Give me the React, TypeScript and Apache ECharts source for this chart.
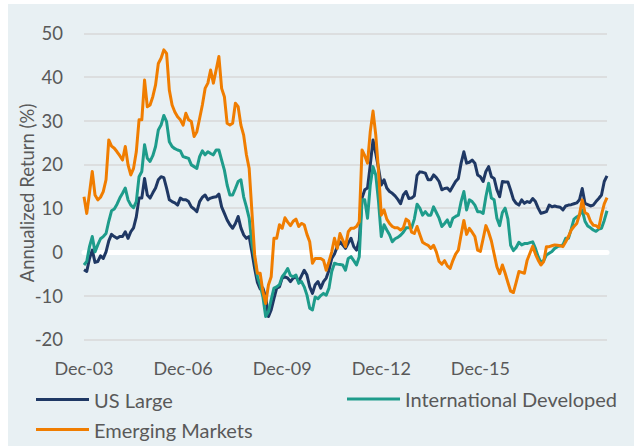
import React, { useEffect, useRef } from "react";
import * as echarts from "echarts";

const MONTHS = ["Jan", "Feb", "Mar", "Apr", "May", "Jun", "Jul", "Aug", "Sep", "Oct", "Nov", "Dec"];
const START_YEAR = 2003;
const START_MONTH = 11; // December
const POINT_COUNT = 191;
const categories: string[] = [];
for (let i = 0; i < POINT_COUNT; i++) {
  const m = (START_MONTH + i) % 12;
  const y = START_YEAR + Math.floor((START_MONTH + i) / 12);
  categories.push(`${MONTHS[m]}-${String(y % 100).padStart(2, "0")}`);
}
const labelIndices = [0, 36, 72, 108, 144];

const usLarge = [
  -4.1, -4.5, -1.5, 0.4, -2.4, -2.2, -0.9, -1.5, 0.0, 2.5,
  4.0, 3.5, 3.1, 3.5, 3.5, 4.6, 3.1, 4.6, 5.5, 8.0,
  12.3, 12.3, 16.8, 13.0, 12.3, 13.5, 14.6, 16.5, 17.2, 17.0,
  14.6, 11.9, 11.5, 11.2, 10.7, 12.3, 11.9, 11.9, 11.5, 10.3,
  9.8, 9.2, 11.5, 12.5, 13.0, 11.9, 12.3, 12.5, 12.6, 13.2,
  10.3, 8.8, 7.3, 6.2, 5.4, 6.5, 8.1, 5.5, 3.9, 3.1,
  3.5, 0.0, -3.8, -7.0, -8.5, -8.3, -10.3, -14.8, -13.3, -10.7,
  -8.3, -8.0, -6.0, -5.7, -6.0, -6.8, -6.0, -5.7, -6.8, -5.5,
  -4.2, -5.3, -8.0, -9.5, -7.5, -6.8, -8.3, -6.8, -6.0, -4.2,
  -1.5, -0.5, 1.2, 2.3, 1.6, 0.8, 2.0, 3.1, 1.2, 0.4,
  2.7, 12.3, 14.2, 14.6, 19.9, 25.6, 22.5, 19.1, 15.3, 16.5,
  14.6, 13.8, 13.4, 12.8, 12.0, 11.0, 13.0, 13.8, 12.2, 12.3,
  12.8, 17.5, 18.3, 18.2, 18.0, 16.5, 16.5, 17.6, 17.0, 16.1,
  14.2, 14.5, 14.6, 13.9, 15.0, 16.1, 16.8, 20.3, 22.9, 20.3,
  20.5, 21.0, 20.3, 17.6, 17.2, 16.1, 18.4, 19.5, 17.2, 16.8,
  14.2, 12.6, 16.1, 16.0, 16.0, 14.1, 12.0, 11.1, 10.7, 11.9,
  11.1, 11.5, 11.3, 12.2, 11.5, 10.0, 8.8, 9.0, 9.2, 10.7,
  10.3, 10.5, 10.3, 10.2, 9.6, 10.5, 10.7, 10.8, 11.0, 11.2,
  11.9, 14.5, 11.1, 10.8, 10.5, 10.7, 11.5, 12.2, 13.0, 16.1, 17.4,
];

const intlDeveloped = [
  -3.0, -2.2, 1.2, 3.5, 0.0, 1.6, 3.0, 3.5, 4.2, 7.0,
  9.4, 9.8, 10.9, 12.3, 13.4, 14.6, 11.9, 10.7, 10.1, 11.5,
  17.2, 18.4, 24.5, 21.4, 20.7, 22.0, 24.1, 27.9, 29.0, 31.2,
  29.8, 25.2, 24.1, 23.6, 23.3, 23.1, 21.8, 21.6, 21.4, 19.9,
  19.5, 19.1, 21.8, 23.1, 22.2, 22.9, 22.5, 22.2, 23.3, 23.3,
  21.0, 18.7, 15.3, 13.0, 13.0, 14.5, 16.1, 16.5, 12.6, 10.3,
  7.7, 1.9, -1.5, -5.7, -7.6, -10.3, -14.8, -13.7, -11.0, -8.3,
  -8.0, -7.5, -5.7, -4.9, -3.8, -5.4, -5.7, -5.3, -7.2, -6.8,
  -8.0, -9.9, -12.9, -13.3, -10.3, -10.7, -10.0, -9.5, -9.9, -8.3,
  -4.5, -2.6, -2.8, -2.9, -3.0, -4.2, -1.5, -1.1, -2.0, -3.0,
  -1.1, 11.9, 11.9, 7.7, 15.3, 19.5, 17.6, 11.5, 3.5, 6.2,
  5.0, 3.9, 2.3, 3.0, 3.3, 3.8, 4.5, 5.5, 5.5, 5.5,
  7.5, 10.9, 10.0, 8.4, 9.2, 8.4, 8.4, 10.3, 9.0, 7.7,
  5.8, 6.5, 7.3, 5.8, 7.7, 8.1, 8.4, 11.5, 13.8, 9.6,
  11.9, 11.5, 10.7, 9.2, 9.2, 8.8, 12.6, 15.7, 12.3, 11.9,
  7.7, 6.0, 9.0, 10.0, 7.5, 1.5, 0.3, 1.0, 2.2, 1.6,
  1.9, 1.9, 2.1, 2.3, 0.8, -1.1, -2.4, -2.0, -0.7, -0.3,
  0.1, 0.8, 1.2, 1.4, 1.6, 3.1, 3.1, 5.2, 7.5, 8.0,
  8.4, 9.6, 7.0, 5.9, 5.5, 5.0, 4.7, 5.2, 5.4, 7.2, 9.4,
];

const emergingMarkets = [
  12.6, 8.8, 13.5, 18.4, 13.0, 11.9, 12.5, 13.8, 16.5, 25.6,
  24.2, 23.7, 22.9, 22.0, 21.0, 24.1, 19.9, 17.6, 19.1, 22.9,
  30.2, 30.2, 39.3, 33.2, 33.6, 35.5, 38.2, 43.1, 44.3, 46.2,
  45.4, 37.0, 33.6, 32.0, 30.9, 30.2, 29.0, 31.7, 30.2, 29.8,
  26.4, 27.5, 30.5, 33.6, 37.4, 38.6, 41.6, 38.6, 41.6, 44.7,
  37.4, 35.5, 29.4, 29.0, 29.4, 34.0, 33.2, 29.0, 26.7, 22.2,
  19.1, 9.2, -0.7, -4.9, -4.9, -9.1, -11.8, -7.6, -5.7, 3.1,
  3.1, 6.2, 5.4, 7.8, 6.8, 6.0, 7.0, 7.5, 5.8, 6.5,
  6.2, 4.0, 2.3, -2.6, -1.5, -1.5, -1.5, -1.9, -4.2, -2.2,
  0.0, 3.1, 0.8, 4.2, 2.7, 1.2, 4.6, 5.4, 5.4, 5.8,
  6.9, 23.3, 22.0, 20.3, 27.5, 32.2, 26.7, 18.4, 8.4, 9.6,
  7.5, 6.5, 5.8, 5.5, 5.5, 5.0, 5.5, 7.5, 7.0, 4.5,
  4.2, 5.8, 4.0, 2.2, 1.8, 1.5, 0.8, 1.5, 0.0, -2.2,
  -2.8, -2.0, -3.2, -3.8, -2.0, -0.5, 0.4, 3.9, 7.2, 4.0,
  5.4, 4.5, 3.5, 0.4, 0.1, 3.0, 6.0, 4.5, 2.5, -0.5,
  -3.4, -5.0, -3.0, -4.9, -7.0, -9.0, -9.3, -7.0, -4.5, -4.7,
  -4.9, -1.9, -0.3, 1.3, -0.5, -1.9, -3.0, -2.2, 1.2, 1.2,
  1.4, 1.6, 1.5, 1.4, 1.2, 2.3, 3.5, 5.0, 5.8, 6.5,
  8.5, 11.9, 9.0, 8.6, 7.0, 6.1, 6.0, 5.5, 8.5, 11.0, 12.4,
];

const SERIES_NAMES = ["US Large", "International Developed", "Emerging Markets"];
const Y_TITLE = "Annualized Return (%)";
const COLORS = ["#1f3864", "#1e9c8b", "#f07d00"];
const FONT = "Lato";
const TEXT_COLOR = "#595959";

export default function App() {
  const ref = useRef<HTMLDivElement>(null);
  useEffect(() => {
    if (!ref.current) return;
    const chart = echarts.init(ref.current, undefined, { renderer: "svg" });
    const legendBase = {
      orient: "horizontal",
      padding: 0,
      icon: "rect",
      itemWidth: 53,
      itemHeight: 3,
      textStyle: { color: TEXT_COLOR, fontSize: 20, fontFamily: FONT, lineHeight: 22 },
    };
    chart.setOption({
      animation: false,
      backgroundColor: "#e8f0f3",
      textStyle: { fontFamily: FONT },
      grid: { left: 76, right: 27, top: 29.3, bottom: 106.7 },
      legend: [
        { ...legendBase, data: [SERIES_NAMES[0]], left: 28, top: 384.5 },
        { ...legendBase, data: [SERIES_NAMES[1]], left: 339, top: 384 },
        { ...legendBase, data: [SERIES_NAMES[2]], left: 28, top: 414.5 },
      ],
      graphic: [
        {
          type: "text",
          x: 19,
          y: 189,
          rotation: Math.PI / 2,
          style: {
            text: Y_TITLE,
            fill: TEXT_COLOR,
            fontSize: 18.5,
            fontFamily: FONT,
            align: "center",
            verticalAlign: "middle",
            textAlign: "center",
            textVerticalAlign: "middle",
          },
        },
      ],
      xAxis: [
        {
          type: "category",
          data: categories,
          boundaryGap: false,
          position: "bottom",
          axisLine: { show: false, onZero: false },
          axisTick: { show: false },
          splitLine: { show: false },
          axisLabel: {
            interval: (index: number) => labelIndices.includes(index),
            color: TEXT_COLOR,
            fontSize: 18,
            fontFamily: FONT,
            margin: 20,
          },
        },
        {
          type: "category",
          data: categories,
          boundaryGap: false,
          position: "top",
          axisLine: { show: true, onZero: true, lineStyle: { color: "#ffffff", width: 5 } },
          axisTick: { show: false },
          axisLabel: { show: false },
          splitLine: { show: false },
        },
      ],
      yAxis: {
        type: "value",
        min: -20,
        max: 50,
        interval: 10,
        axisLine: { show: false },
        axisTick: { show: false },
        axisLabel: { color: TEXT_COLOR, fontSize: 18.5, fontFamily: FONT, margin: 21 },
        splitLine: { show: true, lineStyle: { color: "#d9d9d9", width: 1.5 } },
      },
      series: [usLarge, intlDeveloped, emergingMarkets].map((d, i) => ({
        name: SERIES_NAMES[i],
        type: "line",
        data: d,
        xAxisIndex: 0,
        showSymbol: false,
        symbol: "none",
        lineStyle: { color: COLORS[i], width: 3, join: "round" },
        itemStyle: { color: COLORS[i] },
        z: 2 + i,
      })),
    });
    return () => chart.dispose();
  }, []);
  return (
    <div
      ref={ref}
      style={{ position: "fixed", left: 8, top: 4, width: 626, height: 442 }}
    />
  );
}
